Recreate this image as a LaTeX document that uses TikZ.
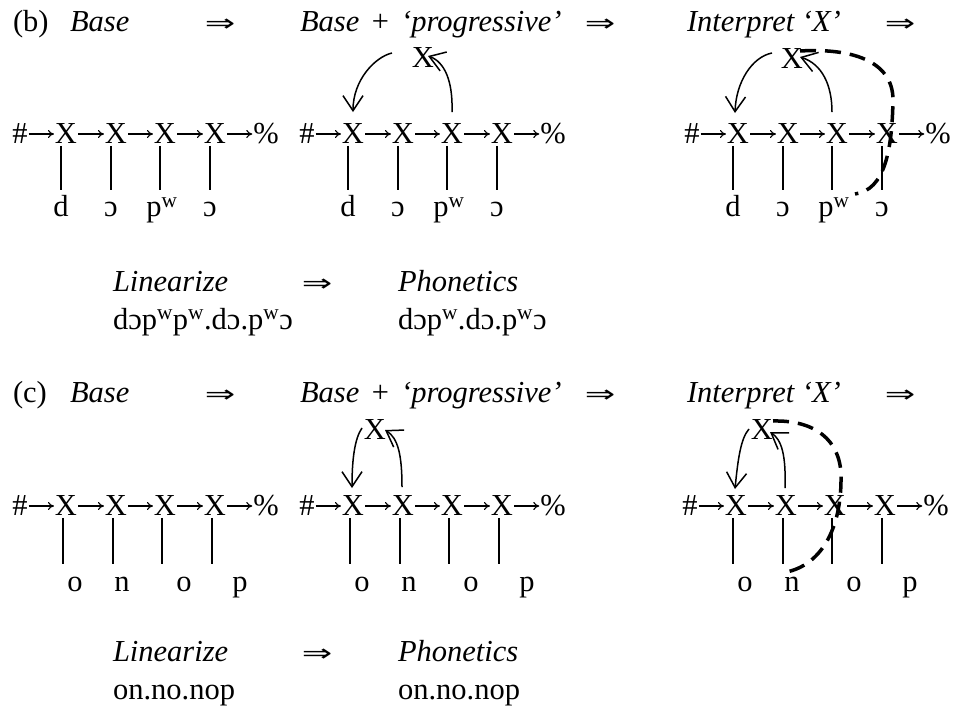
\documentclass[tikz,border=0pt]{standalone}
\usepackage{fontspec}
\usepackage{graphicx}
\setmainfont{Liberation Serif}
\newfontfamily\symfnt{DejaVu Sans}
\usetikzlibrary{arrows.meta}
\newcommand{\myPw}{p\textsuperscript{w}}
\newcommand{\myImp}{\scalebox{1.3}[0.85]{\symfnt ⇒}}
\begin{document}
\begin{tikzpicture}[x=1pt,y=-1pt,
  every node/.style={inner sep=0pt, outer sep=0pt, font=\fontsize{30.5}{36}\selectfont},
  seg/.style={anchor=base},
  txt/.style={anchor=base west},
  imp/.style={anchor=base, font=\fontsize{28}{32}\selectfont},
  chainarrow/.style={-{To[length=6pt,width=8pt]}, line width=1.1pt, shorten >=1pt, shorten <=1pt},
  assoc/.style={line width=1.4pt},
  movearrow/.style={line width=1.5pt, -{Straight Barb[length=15pt,width=20pt]}},
  interp/.style={line width=3.5pt, dash pattern=on 16pt off 9pt},
]
\useasboundingbox (0,0) rectangle (953,711);

% headers
\foreach \lab/\yy in {b/32,c/402} {
  \node[txt] (lab\lab) at (13,\yy) {(\lab)};
  \node[txt] (base\lab) at (70,\yy) {\itshape Base};
  \node[imp] (impA\lab) at (220,\yy) {\myImp};
  \node[txt] (prog\lab) at (300,\yy) {\itshape Base\hspace{0.35em}+\hspace{0.35em}‘progressive’};
  \node[imp] (impB\lab) at (600,\yy) {\myImp};
  \node[txt] (interp\lab) at (687,\yy) {\itshape Interpret ‘X’};
  \node[imp] (impC\lab) at (900,\yy) {\myImp};
}

% (b) chains
\foreach \p/\ox in {1/0,2/287,3/672} {
  \node (b\p h) at (20+\ox,134) {\#};
  \node (b\p x1) at (66+\ox,134) {X};
  \node (b\p x2) at (116+\ox,134) {X};
  \node (b\p x3) at (165+\ox,134) {X};
  \node (b\p x4) at (215+\ox,134) {X};
  \node (b\p e) at (266+\ox,134) {\%};
  \draw[chainarrow] (b\p h) -- (b\p x1);
  \draw[chainarrow] (b\p x1) -- (b\p x2);
  \draw[chainarrow] (b\p x2) -- (b\p x3);
  \draw[chainarrow] (b\p x3) -- (b\p x4);
  \draw[chainarrow] (b\p x4) -- (b\p e);
  \foreach \i in {1,...,4}
    \draw[assoc] ([shift={(-5,2)}]b\p x\i.south) -- ++(0,44);
  \node[seg] (b\p s1) at (61+\ox,217) {d};
  \node[seg] (b\p s2) at (111+\ox,217) {ɔ};
  \node[seg] (b\p s3) at (162+\ox,217) {\myPw};
  \node[seg] (b\p s4) at (210+\ox,217) {ɔ};
}

% (c) chains
\foreach \p/\ox in {1/0,2/287,3/670} {
  \node (c\p h) at (20+\ox,506) {\#};
  \node (c\p x1) at (66+\ox,506) {X};
  \node (c\p x2) at (116+\ox,506) {X};
  \node (c\p x3) at (165+\ox,506) {X};
  \node (c\p x4) at (215+\ox,506) {X};
  \node (c\p e) at (266+\ox,506) {\%};
  \draw[chainarrow] (c\p h) -- (c\p x1);
  \draw[chainarrow] (c\p x1) -- (c\p x2);
  \draw[chainarrow] (c\p x2) -- (c\p x3);
  \draw[chainarrow] (c\p x3) -- (c\p x4);
  \draw[chainarrow] (c\p x4) -- (c\p e);
  \foreach \i in {1,...,4}
    \draw[assoc] ([shift={(-3,2)}]c\p x\i.south) -- ++(0,46);
  \node[seg] (c\p s1) at (75+\ox,591) {o};
  \node[seg] (c\p s2) at (122+\ox,591) {n};
  \node[seg] (c\p s3) at (184+\ox,591) {o};
  \node[seg] (c\p s4) at (240+\ox,591) {p};
}

% floating X's
\node (b2t) at (423,58) {X};
\node (b3t) at (792,59) {X};
\node (c2t) at (375,430) {X};
\node (c3t) at (762,430) {X};

% (b) movement arrows
\draw[movearrow] ([shift={(-20,-5)}]b2t.west) .. controls (375,57) and (353,80) .. ([shift={(0,-12)}]b2x1.north);
\draw[movearrow] ([shift={(0,-12)}]b2x3.north) .. controls (453,82) and (445,62) .. ([shift={(5,-2)}]b2t.center);
\draw[movearrow] ([shift={(-20,-6)}]b3t.center) .. controls (752,57) and (736,82) .. ([shift={(-3,-11)}]b3x1.north);
\draw[movearrow] ([shift={(-5,-12)}]b3x3.north) .. controls (832,85) and (822,64) .. ([shift={(8,-2)}]b3t.center);
\draw[interp] ([shift={(8,-8)}]b3t.center) .. controls (850,48) and (893,60) .. (893,100)
   .. controls (892,150) and (885,190) .. ([shift={(21,-23)}]b3s3.base);

% (c) movement arrows
\draw[movearrow] ([shift={(-13,-2)}]c2t.center) .. controls (355,438) and (352,458) .. ([shift={(-1,-8)}]c2x1.north);
\draw[movearrow] ([shift={(-1,-9)}]c2x2.north) .. controls (402,455) and (398,438) .. ([shift={(10,0)}]c2t.center);
\draw[movearrow] ([shift={(-13,-1)}]c3t.center) .. controls (741,438) and (738,458) .. ([shift={(-1,-7)}]c3x1.north);
\draw[movearrow] ([shift={(-1,-8)}]c3x2.north) .. controls (786,456) and (782,440) .. ([shift={(8,2)}]c3t.center);
\draw[interp] ([shift={(11,-9)}]c3t.center) .. controls (815,420) and (840,440) .. (841,475)
   .. controls (842,530) and (820,568) .. ([shift={(-11,-18)}]c3s2.base);

% linearize / phonetics
\foreach \lab/\yy/\f/\g in {b/291/{dɔ\myPw\myPw.dɔ.\myPw ɔ}/{dɔ\myPw.dɔ.\myPw ɔ},
                            c/661/{on.no.nop}/{on.no.nop}} {
  \node[txt] (lin\lab) at (113,\yy) {\itshape Linearize};
  \node[imp] (limp\lab) at (317,\yy) {\myImp};
  \node[txt] (phon\lab) at (398,\yy) {\itshape Phonetics};
  \node[txt] (linf\lab) at (113,\yy+38) {\f};
  \node[txt] (phonf\lab) at (398,\yy+38) {\g};
}
\end{tikzpicture}
\end{document}
